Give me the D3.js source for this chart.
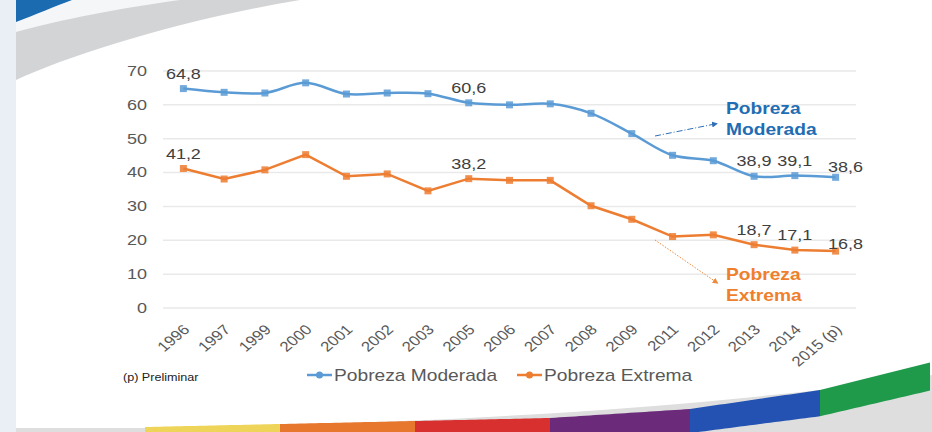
<!DOCTYPE html>
<html>
<head>
<meta charset="utf-8">
<script src="https://cdn.jsdelivr.net/npm/d3@7/dist/d3.min.js"></script>
<style>
  body { margin: 0; background: #fff; }
  text { font-family: "Liberation Sans", Arial, sans-serif; }
</style>
</head>
<body>
<div id="graph"></div>
<script>
var years = ["1996","1997","1999","2000","2001","2002","2003","2005","2006","2007","2008","2009","2011","2012","2013","2014","2015 (p)"];
var moderada = [64.8,63.7,63.5,66.5,63.2,63.5,63.3,60.6,60.0,60.3,57.5,51.5,45.1,43.5,38.9,39.1,38.6];
var extrema  = [41.2,38.1,40.8,45.3,38.9,39.6,34.6,38.2,37.7,37.7,30.2,26.2,21.1,21.6,18.7,17.1,16.8];
// which points carry a value label
var labelYears = ["1996","2005","2013","2014","2015 (p)"];
var yTicks = [0,10,20,30,40,50,60,70];

var width = 932, height = 432;
var blue = "#5B9BD5", orange = "#ED7D31";
var SX = 1.2; // the picture's text is a bit wide

var svg = d3.select("#graph").append("svg")
  .attr("width", width)
  .attr("height", height);

// stretched text helper
function wideText(sel, px, py, extra) {
  return sel.attr("x", 0).attr("y", 0)
    .attr("transform", "translate(" + px + "," + py + ") scale(" + SX + ",1)" + (extra || ""));
}

// background decoration
svg.append("rect").attr("x",0).attr("y",0).attr("width",16).attr("height",height).attr("fill","#e9eff5");
svg.append("path")
  .attr("d","M16,0 L16,80 C70,55 180,20 300,0 Z")
  .attr("fill","#d2d4d6");
svg.append("path")
  .attr("d","M16,32 C60,20 120,8 180,0 L16,0 Z")
  .attr("fill","#f4f6f7");
svg.append("path")
  .attr("d","M16,0 L16,22 C35,15 55,6 72,0 Z")
  .attr("fill","#1a6bb0");

// bottom swoosh
svg.append("path")
  .attr("d","M16,428 L145,428 C400,425 700,410 932,375 L932,432 L16,432 Z")
  .attr("fill","#dedede");
var stripe = [
  {x0:145, x1:280, c:"#efd45a"},
  {x0:280, x1:415, c:"#e8772e"},
  {x0:415, x1:550, c:"#d82f2f"},
  {x0:550, x1:690, c:"#6b2a7a"},
  {x0:690, x1:820, c:"#2352b3"},
  {x0:820, x1:932, c:"#1e9a4a"}
];
var sw = d3.scaleLinear().domain([145,550,690,820,932]).range([427,418,409,390,362]);
stripe.forEach(function(s){
  var pts = d3.range(s.x0, s.x1+1, 5);
  var top = pts.map(function(x){ return [x, sw(x)]; });
  var bot = pts.slice().reverse().map(function(x){ return [x, Math.min(sw(x)+15+ (x-145)/60, 440)]; });
  svg.append("path")
    .attr("d", d3.line()(top.concat(bot)) + "Z")
    .attr("fill", s.c);
});

var x = d3.scaleBand().domain(years).range([163, 856]);
var y = d3.scaleLinear().domain([0,70]).range([308, 71]);
function cx(d){ return x(d) + x.bandwidth()/2; }

// grid
svg.append("g").selectAll("line")
  .data(yTicks).enter().append("line")
  .attr("x1", 163).attr("x2", 856)
  .attr("y1", function(d){ return y(d); })
  .attr("y2", function(d){ return y(d); })
  .attr("stroke", "#e9e9e9")
  .attr("stroke-width", 1.5);

var yAxis = svg.append("g")
  .call(d3.axisLeft(y).tickValues(yTicks).tickSize(0));
yAxis.select(".domain").remove();
yAxis.selectAll(".tick").attr("transform", null);
yAxis.selectAll("text")
  .attr("fill","#595959").style("font-size","15px")
  .style("font-family","'Liberation Sans', Arial, sans-serif")
  .attr("text-anchor","end")
  .each(function(d){ wideText(d3.select(this), 147, y(d)); });

var xAxis = svg.append("g")
  .call(d3.axisBottom(x).tickSize(0));
xAxis.select(".domain").remove();
xAxis.selectAll(".tick").attr("transform", null);
xAxis.selectAll("text")
  .attr("fill","#595959")
  .style("font-size","14px")
  .style("font-family","'Liberation Sans', Arial, sans-serif")
  .attr("text-anchor","end")
  .each(function(d){
    wideText(d3.select(this), cx(d) + 3, 327, " rotate(-45)");
  })
  .attr("dy","0.35em");

function drawSeries(vals, color, curve, anno){
  var pts = years.map(function(yr,i){ return {yr: yr, v: vals[i]}; });
  svg.append("path")
    .datum(pts)
    .attr("fill","none")
    .attr("stroke", color)
    .attr("stroke-width", 2.5)
    .attr("d", d3.line().curve(curve)
      .x(function(d){ return cx(d.yr); })
      .y(function(d){ return y(d.v); }));
  svg.append("g").selectAll("rect")
    .data(pts).enter().append("rect")
    .attr("x", function(d){ return cx(d.yr) - 3.5; })
    .attr("y", function(d){ return y(d.v) - 3.5; })
    .attr("width", 7).attr("height", 7)
    .attr("fill", color).attr("opacity", 0.85);
  svg.append("g").selectAll("text")
    .data(pts.filter(function(d){ return labelYears.indexOf(d.yr) >= 0; }))
    .enter().append("text")
    .attr("text-anchor","middle")
    .attr("fill","#404040")
    .style("font-size","15px")
    .text(function(d){ return d.v.toFixed(1).replace(".", ","); })
    .each(function(d){
      var last = d.yr === "2015 (p)";
      wideText(d3.select(this), cx(d.yr) + (last ? 10 : 0), y(d.v) - (last ? anno : 10));
    });
}
drawSeries(moderada, blue, d3.curveCatmullRom.alpha(0.5), 5);
drawSeries(extrema, orange, d3.curveLinear, 2);

// annotations
var defs = svg.append("defs");
[["arB","#2e6fb7"],["arO","#ed8a3c"]].forEach(function(a){
  defs.append("marker").attr("id",a[0]).attr("viewBox","0 0 10 10")
    .attr("refX",5).attr("refY",5).attr("markerWidth",6).attr("markerHeight",6)
    .attr("orient","auto")
    .append("path").attr("d","M0,0 L10,5 L0,10 Z").attr("fill",a[1]);
});
svg.append("line").attr("x1",655).attr("y1",136).attr("x2",715).attr("y2",124)
  .attr("stroke","#2e6fb7").attr("stroke-width",1)
  .attr("stroke-dasharray","6,2,1,2").attr("marker-end","url(#arB)");
svg.append("line").attr("x1",655).attr("y1",240).attr("x2",716).attr("y2",282)
  .attr("stroke","#ed8a3c").attr("stroke-width",1)
  .attr("stroke-dasharray","1.5,1.5").attr("marker-end","url(#arO)");

var notes = [
  {lines:["Pobreza","Moderada"], color:"#1f6db3", y:114},
  {lines:["Pobreza","Extrema"], color:"#ef7f2c", y:280}
];
notes.forEach(function(n){
  n.lines.forEach(function(t,i){
    wideText(svg.append("text"), 726, n.y + i*21)
      .attr("fill", n.color).style("font-size","16px").style("font-weight","bold")
      .text(t);
  });
});

// legend and note
wideText(svg.append("text"), 123, 381)
  .attr("fill","#222").style("font-size","10.5px").text("(p) Preliminar");

var legend = [
  {name:"Pobreza Moderada", color: blue, x: 307},
  {name:"Pobreza Extrema", color: orange, x: 517}
];
legend.forEach(function(l){
  var g = svg.append("g").attr("transform","translate(" + l.x + ",375)");
  g.append("line").attr("x1",0).attr("x2",25).attr("stroke",l.color).attr("stroke-width",2.5);
  g.append("circle").attr("cx",12.5).attr("r",3.5).attr("fill",l.color);
  wideText(g.append("text"), 27, 6).attr("fill","#595959")
    .style("font-size","16px").text(l.name);
});
</script>
</body>
</html>
